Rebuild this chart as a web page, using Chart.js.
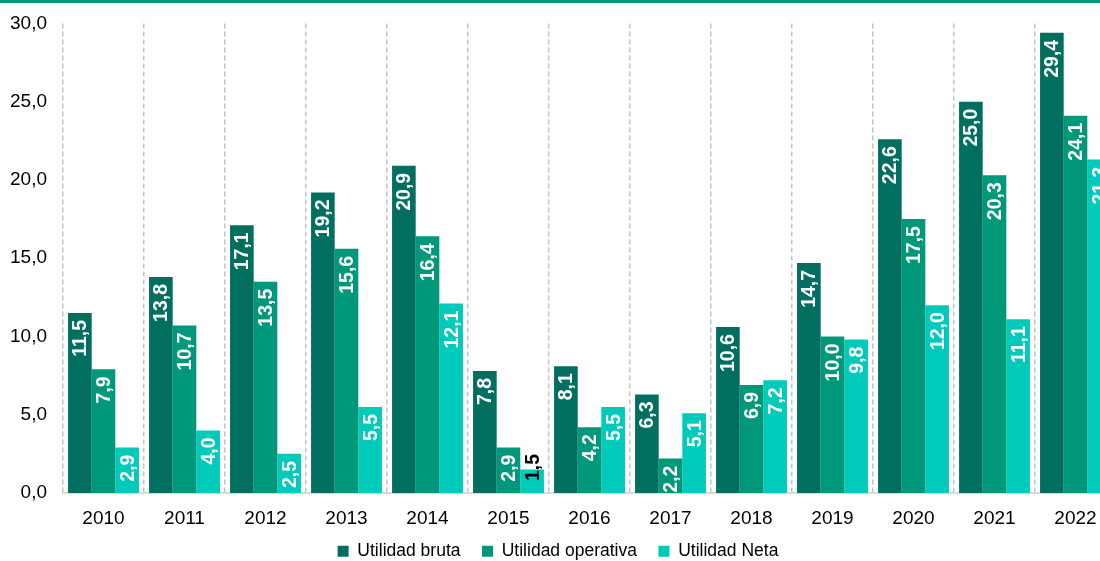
<!DOCTYPE html>
<html>
<head>
<meta charset="utf-8">
<script src="https://cdn.jsdelivr.net/npm/chart.js@4"></script>
<style>
  html, body { margin: 0; padding: 0; background: #fff; overflow: hidden; }
  #wrap { position: relative; width: 1100px; height: 561px; overflow: hidden; }
  #topBand { position: absolute; left: 0; top: 0; width: 1100px; height: 3px; background: #00987a; z-index: 2; }
  #utilidadChart { display: block; margin-top: -4px; }
</style>
</head>
<body>
<div id="wrap">
  <div id="topBand"></div>
  <canvas id="utilidadChart" width="1116" height="574"></canvas>
</div>
<script>
const years = ["2010", "2011", "2012", "2013", "2014", "2015", "2016", "2017", "2018", "2019", "2020", "2021", "2022"];
const utilidadBruta = [11.5, 13.8, 17.1, 19.2, 20.9, 7.8, 8.1, 6.3, 10.6, 14.7, 22.6, 25.0, 29.4];
const utilidadOperativa = [7.9, 10.7, 13.5, 15.6, 16.4, 2.9, 4.2, 2.2, 6.9, 10.0, 17.5, 20.3, 24.1];
const utilidadNeta = [2.9, 4.0, 2.5, 5.5, 12.1, 1.5, 5.5, 5.1, 7.2, 9.8, 12.0, 11.1, 21.3];

const FONT = "'Liberation Sans', Arial, sans-serif";
const fmt = (v) => v.toFixed(1).replace(".", ",");

// value labels written vertically inside the top of each bar
const barLabels = {
  id: "barLabels",
  afterDatasetsDraw(chart) {
    const ctx = chart.ctx;
    ctx.save();
    ctx.font = "bold 19.5px " + FONT;
    chart.data.datasets.forEach((ds, i) => {
      const meta = chart.getDatasetMeta(i);
      meta.data.forEach((bar, j) => {
        const text = fmt(ds.data[j]);
        const w = ctx.measureText(text).width;
        const h = bar.base - bar.y;
        ctx.save();
        if (w + 4 <= h) {
          ctx.translate(bar.x, bar.y + 7);
          ctx.rotate(-Math.PI / 2);
          ctx.textAlign = "right";
          ctx.fillStyle = "#ffffff";
        } else {
          // too short: black label straddling the bar top
          ctx.translate(bar.x, bar.y - 2);
          ctx.rotate(-Math.PI / 2);
          ctx.textAlign = "center";
          ctx.fillStyle = "#000000";
        }
        ctx.textBaseline = "middle";
        ctx.fillText(text, 0, 1);
        ctx.restore();
      });
    });
    ctx.restore();
  }
};

new Chart(document.getElementById("utilidadChart"), {
  type: "bar",
  data: {
    labels: years,
    datasets: [
      { label: "Utilidad bruta", data: utilidadBruta, backgroundColor: "#006f5f" },
      { label: "Utilidad operativa", data: utilidadOperativa, backgroundColor: "#00987a" },
      { label: "Utilidad Neta", data: utilidadNeta, backgroundColor: "#00cbbb" }
    ]
  },
  options: {
    responsive: false,
    animation: false,
    layout: { padding: 0 },
    datasets: {
      bar: { barPercentage: 1, categoryPercentage: 0.875 }
    },
    scales: {
      x: {
        grid: {
          display: true,
          offset: true,
          drawTicks: false,
          color: "#c4c4c4",
          lineWidth: 1.5
        },
        border: { display: true, color: "#d9d9d9", width: 2, dash: [5, 3] },
        afterFit(scale) {
          // keep the axis box short so the legend sits close; let labels overflow it
          scale.height = 28;
          scale._computeLabelArea = () => null;
        },
        ticks: { color: "#000", padding: 14, font: { family: FONT, size: 19 } }
      },
      y: {
        min: 0,
        max: 30,
        grid: { display: false, drawTicks: false },
        border: { display: false },
        afterFit(scale) { scale.width = 63; },
        ticks: {
          stepSize: 5,
          color: "#000",
          padding: 16,
          font: { family: FONT, size: 19 },
          callback: (v) => fmt(v)
        }
      }
    },
    plugins: {
      tooltip: { enabled: false },
      legend: {
        position: "bottom",
        labels: {
          color: "#000",
          boxWidth: 11,
          boxHeight: 11,
          padding: 21.5,
          font: { family: FONT, size: 17.5 }
        }
      }
    }
  },
  plugins: [barLabels]
});
</script>
</body>
</html>
